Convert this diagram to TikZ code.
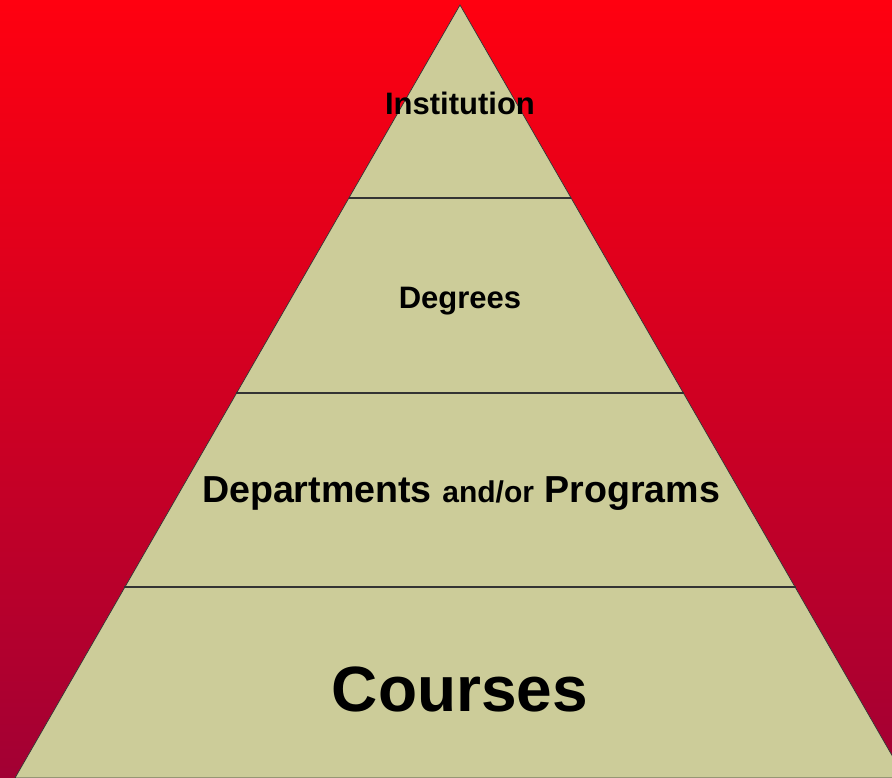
\documentclass[tikz,border=0pt]{standalone}
\usepackage{fontspec}
\setmainfont{Liberation Sans}
\definecolor{bgtop}{RGB}{255,0,16}
\definecolor{bgbot}{RGB}{162,0,52}
\definecolor{tier}{RGB}{204,204,153}
\tikzset{
  label/.style={font=\bfseries, text=black, inner sep=0pt},
  divider/.style={line width=1.6pt, draw=black!80}
}
\begin{document}
\begin{tikzpicture}[x=1pt,y=1pt]
    \useasboundingbox (0,0) rectangle (892,778);
    \clip (0,0) rectangle (892,778);
    \shade[top color=bgtop, bottom color=bgbot] (0,0) rectangle (892,778);
    \coordinate (apex) at (460,773);
    \coordinate (bl) at (15,0);
    \coordinate (br) at (905,0);
    \filldraw[fill=tier, draw=black!80, line width=0.7pt] (bl)--(apex)--(br)--cycle;
    \coordinate (l1) at (348.6,580);
    \coordinate (r1) at (571.4,580);
    \coordinate (l2) at (236,385);
    \coordinate (r2) at (684,385);
    \coordinate (l3) at (124,191);
    \coordinate (r3) at (796,191);
    \draw[divider] (l1)--(r1);
    \draw[divider] (l2)--(r2);
    \draw[divider] (l3)--(r3);
    \node[label, font=\fontsize{31}{36}\selectfont\bfseries] (inst) at (460,675) {Institution};
    \node[label, font=\fontsize{31}{36}\selectfont\bfseries] (deg) at (460,477) {Degrees};
    \node[label, font=\fontsize{37.6}{44}\selectfont\bfseries] (dept) at (461,284)
        {Departments {\fontsize{30}{34}\selectfont and/or} Programs};
    \node[label, font=\fontsize{64}{72}\selectfont\bfseries] (crs) at (460,89) {Courses};
\end{tikzpicture}
\end{document}
